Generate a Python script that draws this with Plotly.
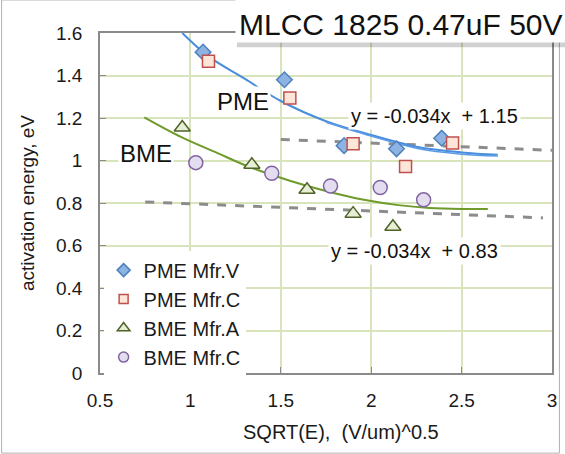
import plotly.graph_objects as go

# ---- data ----
pme_v_x = [1.07, 1.52, 1.85, 2.14, 2.39]
pme_v_y = [1.51, 1.38, 1.07, 1.055, 1.105]
pme_c_x = [1.10, 1.55, 1.90, 2.19, 2.45]
pme_c_y = [1.467, 1.294, 1.079, 0.972, 1.082]
bme_a_x = [0.955, 1.34, 1.645, 1.90, 2.12]
bme_a_y = [1.155, 0.98, 0.862, 0.75, 0.688]
bme_c_x = [1.03, 1.45, 1.775, 2.05, 2.29]
bme_c_y = [0.99, 0.94, 0.88, 0.873, 0.815]

# trend curves
pme_fit1_x = [0.955, 1.1, 1.3, 1.5, 1.75, 2.0, 2.25, 2.5, 2.7]
pme_fit1_y = [1.6, 1.49, 1.385, 1.28, 1.185, 1.12, 1.065, 1.038, 1.027]
pme_fit2_x = [1.75, 2.0, 2.25, 2.5, 2.7]
pme_fit2_y = [1.18, 1.115, 1.058, 1.03, 1.021]
bme_fit_x = [0.745, 0.95, 1.15, 1.32, 1.55, 1.76, 1.96, 2.15, 2.32, 2.5, 2.645]
bme_fit_y = [1.203, 1.11, 1.035, 0.972, 0.905, 0.854, 0.815, 0.79, 0.777, 0.772, 0.772]

# linear trend lines (end points)
lin_hi_x = [1.5, 3.0]
lin_hi_y = [1.099, 1.048]
lin_lo_x = [0.75, 2.95]
lin_lo_y = [0.805, 0.73]

x_ticks = [0.5, 1, 1.5, 2, 2.5, 3]
y_ticks = [0, 0.2, 0.4, 0.6, 0.8, 1, 1.2, 1.4, 1.6]

series_names = ["PME Mfr.V", "PME Mfr.C", "BME Mfr.A", "BME Mfr.C"]

FONT = "Arial, Liberation Sans, sans-serif"

styles = [
    dict(symbol="diamond", color="#8db3e2", line="#4f81bd"),
    dict(symbol="square", color="#fde5d8", line="#c0504d"),
    dict(symbol="triangle-up", color="#e6eed6", line="#4f6228"),
    dict(symbol="circle", color="#e3ddef", line="#8064a2"),
]
plot_sizes = [12, 12, 14, 14]
legend_sizes = [10, 9, 11, 10]

fig = go.Figure()

# lines first
fig.add_trace(go.Scatter(x=lin_hi_x, y=lin_hi_y, mode="lines", showlegend=False,
                         line=dict(color="#8c8c8c", width=3, dash="dash")))
fig.add_trace(go.Scatter(x=lin_lo_x, y=lin_lo_y, mode="lines", showlegend=False,
                         line=dict(color="#8c8c8c", width=3, dash="dash")))
fig.add_trace(go.Scatter(x=pme_fit1_x, y=pme_fit1_y, mode="lines", showlegend=False,
                         line=dict(color="#4a8ddc", width=2, shape="spline")))
fig.add_trace(go.Scatter(x=pme_fit2_x, y=pme_fit2_y, mode="lines", showlegend=False,
                         line=dict(color="#5b9be6", width=1.5, shape="spline")))
fig.add_trace(go.Scatter(x=bme_fit_x, y=bme_fit_y, mode="lines", showlegend=False,
                         line=dict(color="#6f9a2c", width=2, shape="spline")))

# markers
series_x = [pme_v_x, pme_c_x, bme_a_x, bme_c_x]
series_y = [pme_v_y, pme_c_y, bme_a_y, bme_c_y]
for i, name in enumerate(series_names):
    st = styles[i]
    fig.add_trace(go.Scatter(
        x=series_x[i], y=series_y[i], mode="markers", name=name, showlegend=False,
        legendgroup=name,
        marker=dict(symbol=st["symbol"], size=plot_sizes[i], color=st["color"],
                    line=dict(color=st["line"], width=1.5))))
# legend entries (smaller symbols, as in the reference legend)
for i, name in enumerate(series_names):
    st = styles[i]
    fig.add_trace(go.Scatter(
        x=[None], y=[None], mode="markers", name=name, legendgroup=name,
        marker=dict(symbol=st["symbol"], size=legend_sizes[i], color=st["color"],
                    line=dict(color=st["line"], width=1.5))))

axis_common = dict(
    showgrid=True, gridcolor="#d8e4bc", gridwidth=1.5,
    zeroline=False, showline=True, linecolor="#8a8a8a", linewidth=1.5,
    mirror=True, ticks="inside", ticklen=6, tickcolor="#8a8a8a",
    tickfont=dict(family=FONT, size=19, color="#1a1a1a"),
)

fig.update_layout(
    width=565, height=454,
    margin=dict(l=100, r=8, t=33, b=81),
    paper_bgcolor="white", plot_bgcolor="white",
    font=dict(family=FONT, color="#1a1a1a"),
    xaxis=dict(range=[0.5, 3], tickvals=x_ticks, ticklabelstandoff=9, **axis_common),
    yaxis=dict(range=[0, 1.6], tickvals=y_ticks, ticklabelstandoff=12,
               title=dict(text="activation energy, eV", font=dict(size=19), standoff=16),
               **axis_common),
    legend=dict(x=0.008, y=0.36, xanchor="left", yanchor="top",
                bgcolor="white", font=dict(size=20, family=FONT),
                tracegroupgap=0, itemwidth=30),
    showlegend=True,
)

# x axis title placed as in the reference
fig.add_annotation(xref="paper", yref="paper", x=0.534, y=-0.174,
                   text="SQRT(E),\u00a0 (V/um)^0.5", showarrow=False,
                   xanchor="center", yanchor="middle",
                   font=dict(family=FONT, size=20, color="#1a1a1a"))

# outer chart border
fig.add_shape(type="rect", xref="paper", yref="paper",
              x0=-0.2177, x1=1.0164, y0=-0.2356, y1=1.0972,
              line=dict(color="#b0b0b0", width=1), layer="above")

# title box with shadow
fig.add_shape(type="rect", xref="paper", yref="paper",
              x0=0.303, x1=1.03, y0=0.958, y1=1.09,
              fillcolor="rgba(0,0,0,0.18)", line=dict(width=0), layer="above")
fig.add_shape(type="rect", xref="paper", yref="paper",
              x0=0.2998, x1=1.03, y0=0.972, y1=1.11,
              fillcolor="white", line=dict(width=0), layer="above")
fig.add_annotation(xref="paper", yref="paper", x=0.665, y=1.025,
                   text="MLCC 1825 0.47uF 50V", showarrow=False,
                   xanchor="center", yanchor="middle",
                   font=dict(family=FONT, size=30, color="#111111"))

# text labels
fig.add_annotation(x=1.293, y=1.278, text="PME", showarrow=False,
                   font=dict(family=FONT, size=24, color="#111111"),
                   bgcolor="white", borderpad=1)
fig.add_annotation(x=0.755, y=1.035, text="BME", showarrow=False,
                   font=dict(family=FONT, size=24, color="#111111"),
                   bgcolor="white", borderpad=1)
fig.add_annotation(x=2.349, y=1.208, text="y = -0.034x \u00a0+ 1.15", showarrow=False,
                   font=dict(family=FONT, size=20, color="#111111"),
                   bgcolor="white", borderpad=2)
fig.add_annotation(x=2.24, y=0.572, text="y = -0.034x \u00a0+ 0.83", showarrow=False,
                   font=dict(family=FONT, size=20, color="#111111"),
                   bgcolor="white", borderpad=2)

fig.write_html("out.html")
